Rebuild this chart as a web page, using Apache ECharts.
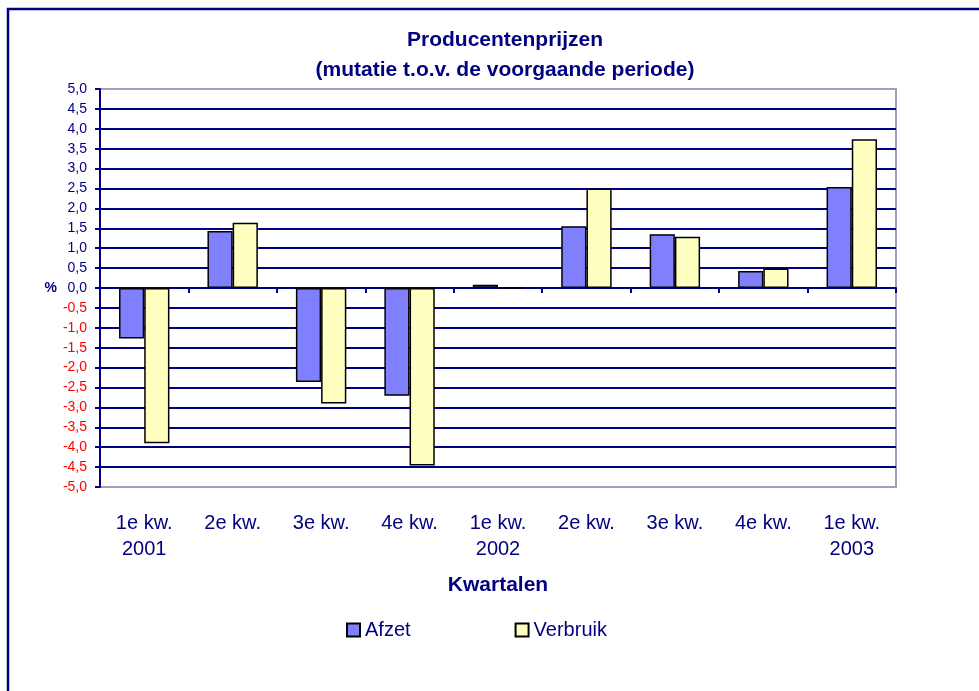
<!DOCTYPE html>
<html><head><meta charset="utf-8">
<script src="https://cdn.jsdelivr.net/npm/echarts@6/dist/echarts.min.js"></script>
<style>html,body{margin:0;padding:0;background:#fff}#c{width:979px;height:691px}</style>
</head><body><div id="c"></div>
<script>
const categories = ['1e kw.\n2001','2e kw.','3e kw.','4e kw.','1e kw.\n2002','2e kw.','3e kw.','4e kw.','1e kw.\n2003'];
const afzet = [-1.27, 1.43, -2.36, -2.71, 0.08, 1.55, 1.35, 0.43, 2.54];
const verbruik = [-3.9, 1.64, -2.9, -4.46, 0.0, 2.5, 1.29, 0.49, 3.74];
const seriesNames = ['Afzet', 'Verbruik'];
const yMin = -5, yMax = 5, yStep = 0.5;

const NAVY = '#000080';
const FONT = '"Liberation Sans", Arial, sans-serif';
const chart = echarts.init(document.getElementById('c'), null, {renderer: 'canvas'});
chart.setOption({
  backgroundColor: '#ffffff',
  animation: false,
  title: {
    text: 'Producentenprijzen\n(mutatie t.o.v. de voorgaande periode)',
    left: 500, top: 20, textAlign: 'center',
    textStyle: {fontFamily: FONT, fontSize: 21, fontWeight: 'bold', color: NAVY, lineHeight: 30}
  },
  legend: {
    left: 341, top: 615,
    itemWidth: 13, itemHeight: 13, itemGap: 104,
    icon: 'rect',
    textStyle: {fontFamily: FONT, fontSize: 20, color: NAVY},
    data: seriesNames
  },
  graphic: [{
    type: 'rect', silent: true,
    shape: {x: 8, y: 9, width: 1100, height: 1000},
    style: {fill: 'none', stroke: NAVY, lineWidth: 2.5}
  }],
  grid: {
    left: 100, right: 83, top: 89, bottom: 204,
    show: true, borderColor: '#a0a0b8', borderWidth: 2, backgroundColor: '#ffffff'
  },
  xAxis: [{
    type: 'category', data: categories, position: 'bottom',
    axisLine: {show: false, onZero: false}, axisTick: {show: false},
    axisLabel: {fontFamily: FONT, fontSize: 20, color: NAVY, lineHeight: 26, margin: 23},
    name: 'Kwartalen', nameLocation: 'middle', nameGap: 88,
    nameTextStyle: {fontFamily: FONT, fontSize: 21, fontWeight: 'bold', color: NAVY}
  }, {
    type: 'category', data: categories, position: 'top',
    axisLine: {show: true, onZero: true, lineStyle: {color: NAVY, width: 2}},
    axisTick: {show: true, inside: true, length: 5, lineStyle: {color: NAVY, width: 2}},
    axisLabel: {show: false}
  }],
  yAxis: {
    type: 'value', min: yMin, max: yMax, interval: yStep,
    name: '%', nameLocation: 'middle', nameRotate: 0, nameGap: 42,
    nameTextStyle: {fontFamily: FONT, fontSize: 14, fontWeight: 'bold', color: NAVY},
    axisLine: {show: true, lineStyle: {color: NAVY, width: 2}},
    axisTick: {show: true, length: 5, lineStyle: {color: NAVY, width: 2}},
    axisLabel: {
      fontFamily: FONT, fontSize: 14, margin: 13,
      formatter: v => v.toFixed(1).replace('.', ','),
      color: v => (Number(v) < 0 ? '#ff0000' : NAVY)
    },
    splitLine: {show: true, showMinLine: false, showMaxLine: false, lineStyle: {color: NAVY, width: 2}}
  },
  series: [{
    name: seriesNames[0], type: 'bar', data: afzet, xAxisIndex: 0,
    barGap: '0%', barCategoryGap: '43%',
    itemStyle: {color: '#8080ff', borderColor: '#000000', borderWidth: 1.5}
  }, {
    name: seriesNames[1], type: 'bar', data: verbruik, xAxisIndex: 0,
    barGap: '0%', barCategoryGap: '43%',
    itemStyle: {color: '#ffffc0', borderColor: '#000000', borderWidth: 1.5}
  }]
});
</script></body></html>
